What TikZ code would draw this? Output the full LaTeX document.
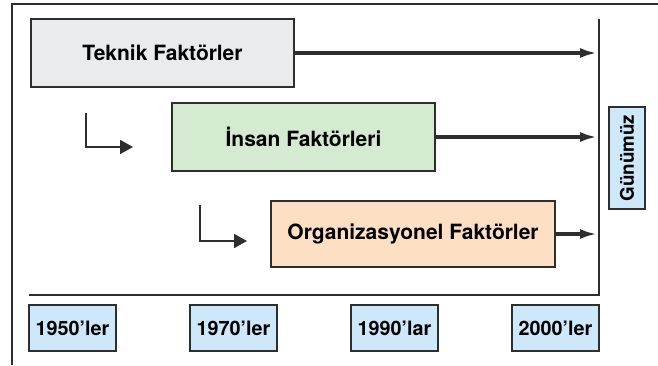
\documentclass[tikz,border=0pt]{standalone}
\usepackage{fontspec}
\setmainfont{TeX Gyre Heros}
\usetikzlibrary{arrows.meta}
\definecolor{teknikgray}{HTML}{EAEBED}
\definecolor{insangreen}{HTML}{D4EBD2}
\definecolor{orgorange}{HTML}{FDDFC4}
\definecolor{yilblue}{HTML}{CDE8F8}
\definecolor{cizgi}{HTML}{2E2E2E}
\tikzset{
  faktor/.style={draw=cizgi, line width=1pt, inner sep=0pt,
    font=\fontsize{10.5}{12}\selectfont\bfseries},
  yil/.style={draw=cizgi, line width=1pt, fill=yilblue, inner sep=0pt,
    minimum width=43.5pt, minimum height=23pt,
    font=\fontsize{9.9}{11}\selectfont\bfseries},
  akis/.style={draw=cizgi, line width=1.6pt, -{Latex[length=8.5pt,width=5pt]}},
  donus/.style={draw=cizgi, line width=0.9pt, -{Triangle[length=6.5pt,width=7pt]}}
}

\begin{document}
\begin{tikzpicture}[x=0.5pt,y=-0.5pt]
  \useasboundingbox (0,0) rectangle (658,365);
  % frame
  \draw[cizgi, line width=0.9pt] (12,365) -- (12,4) -- (658,4);
  \draw[cizgi, line width=0.9pt] (29,295) -- (599,295) -- (599,19);
  \coordinate (simdi) at (597,0);

  % faktor kutulari
  \node[faktor, fill=teknikgray, minimum width=131.5pt, minimum height=34pt] (teknik) at (162.5,53) {Teknik Faktörler};
  \node[faktor, fill=insangreen, minimum width=131.5pt, minimum height=34pt] (insan) at (303.5,137) {İnsan Faktörleri};
  \node[faktor, fill=orgorange, minimum width=142pt, minimum height=33pt] (org) at (413,234) {Organizasyonel Faktörler};

  \draw[akis] (teknik.east) -- (teknik.east -| simdi);
  \draw[akis] (insan.east) -- (insan.east -| simdi);
  \draw[akis] (org.east) -- (org.east -| simdi);

  % donus oklari
  \coordinate (d1) at (86,113);
  \coordinate (d1son) at (133,147);
  \coordinate (d2) at (200,205);
  \coordinate (d2son) at (247,241);
  \draw[donus] (d1) |- (d1son);
  \draw[donus] (d2) |- (d2son);

  % gunumuz
  \node[yil, minimum width=51pt, minimum height=18pt, rotate=90,
    font=\fontsize{9.4}{11}\selectfont\bfseries] (gunumuz) at (627,158) {Günümüz};

  % yillar
  \node[yil] (y1950) at (72.5,328) {1950’ler};
  \node[yil] (y1970) at (233.5,328) {1970’ler};
  \node[yil] (y1990) at (394.5,328) {1990’lar};
  \node[yil] (y2000) at (555.5,328) {2000’ler};
\end{tikzpicture}
\end{document}
